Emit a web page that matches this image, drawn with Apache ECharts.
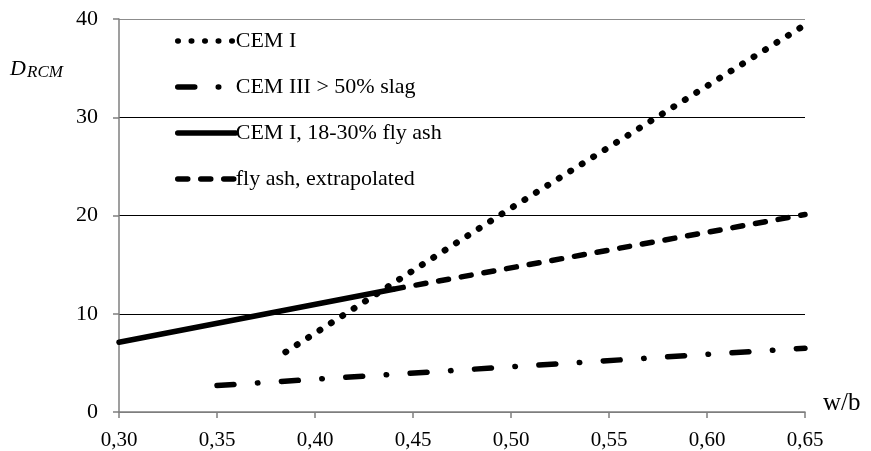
<!DOCTYPE html>
<html>
<head>
<meta charset="utf-8">
<script src="https://cdn.jsdelivr.net/npm/echarts@6/dist/echarts.min.js"></script>
<style>
html,body{margin:0;padding:0;background:#fff;}
#c{width:871px;height:451px;}
</style>
</head>
<body>
<div id="c"></div>
<script>
var seriesNames = ['CEM I', 'CEM III > 50% slag', 'CEM I, 18-30% fly ash', 'fly ash, extrapolated'];
var cemI = [[0.385, 6.1], [0.494, 20.0], [0.65, 39.4]];
var cemIIISlag = [[0.35, 2.7], [0.65, 6.5]];
var flyAsh = [[0.30, 7.1], [0.44, 12.5]];
var flyAshExtrap = [[0.44, 12.5], [0.65, 20.1]];
var xTickValues = [0.30, 0.35, 0.40, 0.45, 0.50, 0.55, 0.60, 0.65];
var xTickLabels = ['0,30', '0,35', '0,40', '0,45', '0,50', '0,55', '0,60', '0,65'];
var yTickLabels = ['0', '10', '20', '30', '40'];

var FONT = '"Liberation Serif", "Times New Roman", serif';
var chart = echarts.init(document.getElementById('c'));
function xLabel(v) {
  for (var i = 0; i < xTickValues.length; i++) {
    if (Math.abs(xTickValues[i] - v) < 1e-6) return xTickLabels[i];
  }
  return '';
}
chart.setOption({
  animation: false,
  backgroundColor: '#fff',
  grid: {left: 119, right: 66, top: 19, bottom: 38, containLabel: false},
  legend: {
    orient: 'vertical',
    left: 170,
    top: 25,
    itemWidth: 58,
    itemHeight: 20,
    itemGap: 24,
    itemStyle: {opacity: 0},
    lineStyle: {width: 5.5, cap: 'round'},
    textStyle: {fontFamily: FONT, fontSize: 22, lineHeight: 20, color: '#000', padding: [0, 0, 0, -5]},
    data: seriesNames
  },
  graphic: [
    {
      type: 'text',
      style: {x: 10, y: 80, text: 'D', verticalAlign: 'bottom', font: 'italic 22px "Liberation Serif", serif', fill: '#000'}
    },
    {
      type: 'text',
      style: {x: 27, y: 81, text: 'RCM', verticalAlign: 'bottom', font: 'italic 17px "Liberation Serif", serif', fill: '#000'}
    }
  ],
  xAxis: {
    type: 'value',
    min: 0.30,
    max: 0.65,
    interval: 0.05,
    name: 'w/b',
    nameLocation: 'end',
    nameGap: 18,
    nameTextStyle: {fontFamily: FONT, fontSize: 25, color: '#000', verticalAlign: 'bottom', align: 'left', padding: [0, 0, -4, 0]},
    axisLine: {show: true, lineStyle: {color: '#7f7f7f', width: 1.5}},
    axisTick: {show: true, length: 6, lineStyle: {color: '#7f7f7f', width: 1.5}},
    axisLabel: {fontFamily: FONT, fontSize: 21, color: '#000', margin: 18, formatter: xLabel},
    splitLine: {show: false}
  },
  yAxis: {
    type: 'value',
    min: 0,
    max: 40,
    interval: 10,
    axisLine: {show: true, lineStyle: {color: '#7f7f7f', width: 1.5}},
    axisTick: {show: true, length: 6, lineStyle: {color: '#7f7f7f', width: 1.5}},
    axisLabel: {fontFamily: FONT, fontSize: 22, color: '#000', margin: 21, formatter: function (v) { return yTickLabels[Math.round(v / 10)]; }},
    splitLine: {show: true, lineStyle: {color: ['#7f7f7f', '#000', '#000', '#000', '#8c8c8c'], width: 1}}
  },
  series: [
    {
      name: seriesNames[0], type: 'line', data: cemI, symbol: 'none', z: 4,
      lineStyle: {color: '#000', width: 6.5, type: [0.5, 13], cap: 'round'},
      itemStyle: {color: '#000'}
    },
    {
      name: seriesNames[1], type: 'line', data: cemIIISlag, symbol: 'none', z: 3,
      lineStyle: {color: '#000', width: 5.5, type: [17, 23.5, 0.5, 23.5], cap: 'round'},
      itemStyle: {color: '#000'}
    },
    {
      name: seriesNames[2], type: 'line', data: flyAsh, symbol: 'none', z: 3,
      lineStyle: {color: '#000', width: 5.5, type: 'solid', cap: 'round'},
      itemStyle: {color: '#000'}
    },
    {
      name: seriesNames[3], type: 'line', data: flyAshExtrap, symbol: 'none', z: 3,
      lineStyle: {color: '#000', width: 5.5, type: [10, 13], cap: 'round'},
      itemStyle: {color: '#000'}
    }
  ]
});
</script>
</body>
</html>
